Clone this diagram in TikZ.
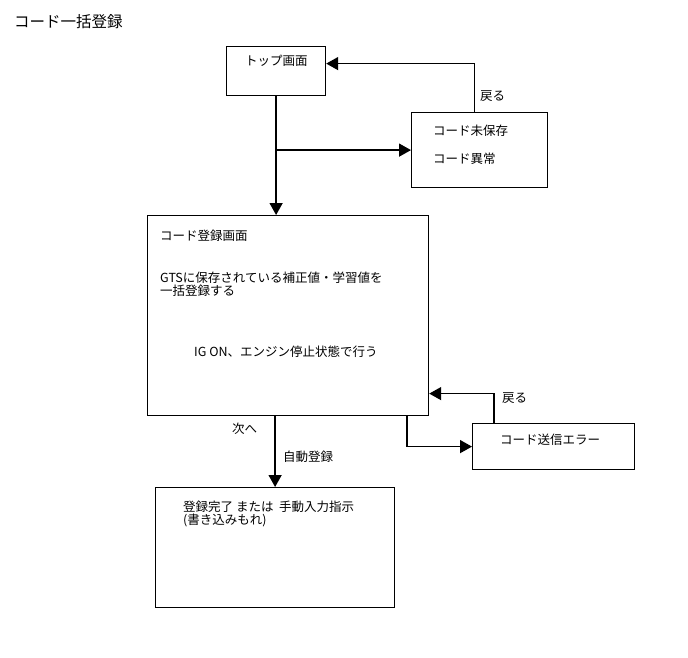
\documentclass[tikz,border=0pt]{standalone}
\usepackage{fontspec}
\newfontfamily\cjk{Noto Sans CJK JP}
\usetikzlibrary{arrows.meta,positioning,calc}

\begin{document}
\begin{tikzpicture}[
  x=1pt, y=-1pt,
  >={Triangle[length=12pt,width=13pt]},
  screen/.style={
    draw=black,
    line width=1.2pt,
    fill=white,
    anchor=north west,
    inner sep=0pt
  },
  txt/.style={
    font=\cjk\fontsize{12.5}{13}\selectfont,
    anchor=west,
    inner sep=0pt,
    align=left
  },
  flow/.style={->, line width=1.5pt}
]
  \useasboundingbox (0,0) rectangle (688,658);

  % Title
  \node[txt, font=\cjk\fontsize{15.5}{16}\selectfont] (title) at (14,22) {コード一括登録};

  % Screens
  \node[screen, minimum width=99pt, minimum height=49pt] (top) at (226,46) {};
  \node[screen, minimum width=136pt, minimum height=75pt] (unsaved) at (411,112) {};
  \node[screen, minimum width=281pt, minimum height=200pt] (main) at (147,215) {};
  \node[screen, minimum width=162pt, minimum height=46pt] (error) at (472,423) {};
  \node[screen, minimum width=239pt, minimum height=120pt] (result) at (155,487) {};

  % Screen texts
  \node[txt] (toptxt) at (245,61) {トップ画面};
  \node[txt] (unsaved1) at (433,131) {コード未保存};
  \node[txt] (unsaved2) at (433,159) {コード異常};
  \node[txt] (maintitle) at (160,236) {コード登録画面};
  \node[txt, anchor=north west] (maindesc) at (160,272) {GTSに保存されている補正値・学習値を\\一括登録する};
  \node[txt] (maincond) at (194,352) {IG ON、エンジン停止状態で行う};
  \node[txt] (errortxt) at (500,440) {コード送信エラー};
  \node[txt, anchor=north west] (resulttxt) at (183,501) {登録完了 または\ \ 手動入力指示\\(書き込みもれ)};

  % Connectors
  \draw[flow] (top.south) -- (top.south |- main.north);
  \draw[flow] (top.south |- unsaved.west) -- (unsaved.west);
  \draw[flow] ($(unsaved.north)+(-5,0)$) |- ($(top.east)+(0,-7.5)$);
  \draw[flow] (result.north |- main.south) -- (result.north);
  \draw[flow] ($(main.south east)+(-22,0)$) |- (error.west);
  \draw[flow] ($(error.north west)+(22,0)$) |- ($(main.east)+(0,78)$);

  % Connector labels
  \node[txt] (back1) at (480,96) {戻る};
  \node[txt] (back2) at (502,398) {戻る};
  \node[txt] (next) at (232,429) {次へ};
  \node[txt] (auto) at (283,457) {自動登録};

\end{tikzpicture}
\end{document}
